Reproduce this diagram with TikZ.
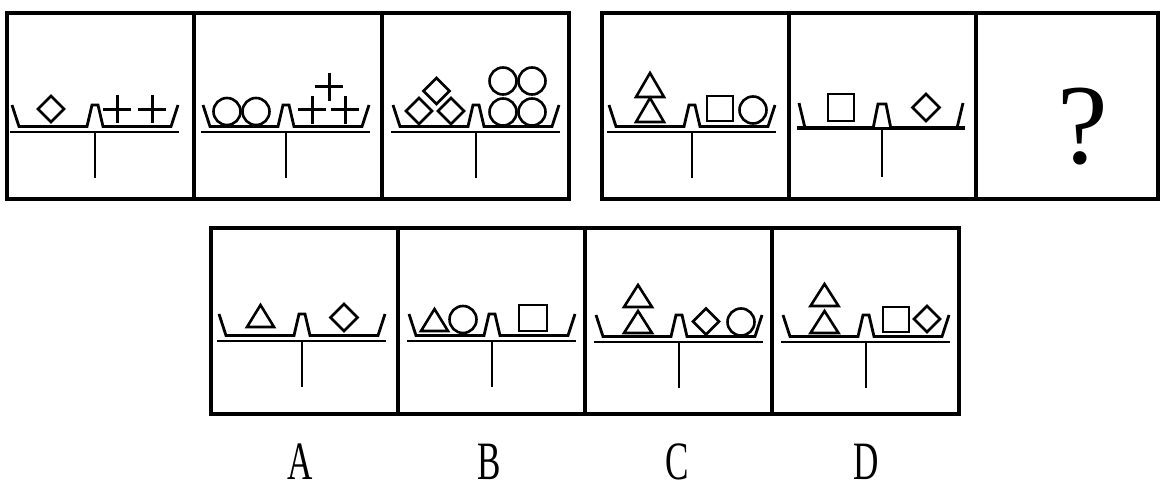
\documentclass[tikz,border=0pt]{standalone}
\usepackage{fontspec}
\setmainfont{Liberation Serif}
\usepackage{graphicx}
\tikzset{
  frame/.style={line width=3.2pt, line join=miter},
  bal/.style={line width=2.8pt},
  shp/.style={line width=2.6pt},
  crs/.style={line width=3pt},
  lbl/.style={anchor=base, inner sep=0pt, font=\fontsize{54}{54}\selectfont},
}
\newcommand\balance[2]{\begin{scope}[shift={(#1,#2)}]
 \draw[bal] (-85,0) -- (84,0);
 \draw[bal] (0,0) -- (0,46);
 \draw[bal] (-83,-27) -- (-76,-5.5) -- (-8,-5.5) -- (-3,-27) -- (3,-27) -- (8,-5.5) -- (76,-5.5) -- (83,-27);
\end{scope}}
\newcommand\dia[3]{\draw[shp] (#1-#3,#2) -- (#1,#2-#3) -- (#1+#3,#2) -- (#1,#2+#3) -- cycle;}
\newcommand\ball[3]{\draw[shp] (#1,#2) circle[radius=#3];}
\newcommand\tri[4]{\draw[shp] (#1,#2) -- (#1+#4,#3) -- (#1-#4,#3) -- cycle;}
\newcommand\sqr[4]{\draw[shp] (#1,#2) rectangle (#3,#4);}
\newcommand\plus[3]{\draw[crs] (#1-#3,#2) -- (#1+#3,#2) (#1,#2-#3) -- (#1,#2+#3);}
\begin{document}
\begin{tikzpicture}[x=1pt,y=-1pt]
\useasboundingbox[fill=white] (0,0) rectangle (1161,484);
% frames
\draw[frame] (7,13) rectangle (569,199);
\draw[frame] (194,13) -- (194,199);
\draw[frame] (382,13) -- (382,199);
\draw[frame] (602,13) rectangle (1158,199);
\draw[frame] (789,13) -- (789,199);
\draw[frame] (976,13) -- (976,199);
\draw[frame] (211,228) rectangle (959,414);
\draw[frame] (398,228) -- (398,414);
\draw[frame] (585,228) -- (585,414);
\draw[frame] (772,228) -- (772,414);
% cell 1
\balance{95}{132}
\dia{51}{109}{13}
\plus{117}{109.5}{14}
\plus{152}{109.5}{14}
% cell 2
\balance{286}{132}
\ball{227}{111.5}{13.5}
\ball{256}{111.5}{13.5}
\plus{312}{110}{14}
\plus{345}{110}{14}
\plus{329}{87}{14}
% cell 3
\balance{476}{132}
\dia{419}{111}{13}
\dia{451}{111}{13}
\dia{436.5}{91}{13}
\ball{503}{81}{13.5}
\ball{532}{81}{13.5}
\ball{503}{112}{13.5}
\ball{532}{112}{13.5}
% cell 4
\balance{692}{132}
\tri{650}{73}{97}{14}
\tri{650}{98}{122}{14}
\sqr{707}{96}{733}{121}
\ball{753}{110}{13.5}
% cell 5 (pans resting on the beam)
\begin{scope}[shift={(882,128)}]
 \draw[line width=4.8pt] (-85,0) -- (83,0);
 \draw[bal] (0,0) -- (0,49);
 \draw[bal] (-83,-25) -- (-77,0);
 \draw[bal] (75,0) -- (81,-25);
 \fill[white] (-8,-1) -- (-4,-24) -- (4,-24) -- (8,-1) -- cycle;
 \draw[bal] (-9,1) -- (-4,-24) -- (4,-24) -- (9,1);
\end{scope}
\sqr{828}{94}{854}{121}
\dia{926}{107.5}{13.5}
% question mark
\node[anchor=base, inner sep=0pt, font=\fontsize{114}{114}\selectfont] (q) at (1082.5,163) {?};
% option A
\balance{302}{341}
\tri{260.5}{305}{327}{13.5}
\dia{344}{317.5}{13.5}
% option B
\balance{492}{341}
\tri{434.5}{309}{331}{13.5}
\ball{463}{319.5}{13.5}
\sqr{519}{305}{547}{331}
% option C
\balance{679}{342}
\tri{638}{285}{307}{14}
\tri{638}{311}{333}{14}
\dia{706}{321.5}{13}
\ball{741}{322}{13.5}
% option D
\balance{866}{342}
\tri{824.5}{284}{306}{14}
\tri{824.5}{311}{333}{14}
\sqr{883}{307}{909}{332}
\dia{927}{319}{13}
% labels
\node[lbl] (la) at (300,479) {\scalebox{0.65}[1]{A}};
\node[lbl] (lb) at (489,479) {\scalebox{0.65}[1]{B}};
\node[lbl] (lc) at (677,479) {\scalebox{0.65}[1]{C}};
\node[lbl] (ld) at (866,479) {\scalebox{0.65}[1]{D}};
\end{tikzpicture}
\end{document}
